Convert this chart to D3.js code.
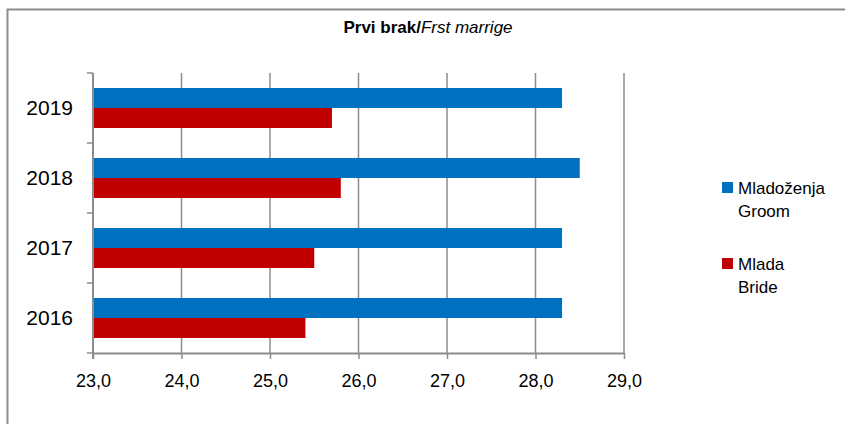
<!DOCTYPE html>
<html>
<head>
<meta charset="utf-8">
<script src="https://cdn.jsdelivr.net/npm/d3@7"></script>
<style>
  body { margin: 0; background: #fff; }
  svg { display: block; font-family: "Liberation Sans", Arial, sans-serif; }
</style>
</head>
<body>
<svg id="chart" width="845" height="424"></svg>
<script>
const years = ['2016', '2017', '2018', '2019'];
const groomAges = [28.3, 28.3, 28.5, 28.3];
const brideAges = [25.4, 25.5, 25.8, 25.7];
const xTicks = [23, 24, 25, 26, 27, 28, 29];
const seriesNames = [['Mladoženja', 'Groom'], ['Mlada', 'Bride']];
const seriesColours = ['#0070c0', '#c00000'];

const svg = d3.select('#chart');
const width = 845, height = 424;

// outer frame
svg.append('path')
	.attr('d', `M7.5,${height}V9.5H${width}`)
	.attr('fill', 'none')
	.attr('stroke', '#8c8c8c')
	.attr('stroke-width', 2);

// title
const title = svg.append('text')
	.attr('x', 428)
	.attr('y', 33)
	.attr('text-anchor', 'middle')
	.attr('font-size', 17)
	.attr('fill', '#000');
title.append('tspan').attr('font-weight', 'bold').text('Prvi brak/');
title.append('tspan').attr('font-style', 'italic').text('Frst marrige');

const plot = { left: 93, right: 624, top: 73, bottom: 353 };

const x = d3.scaleLinear().domain([23, 29]).range([plot.left, plot.right]);
const y = d3.scaleBand().domain(years.slice().reverse()).range([plot.top, plot.bottom]);

const g = svg.append('g');

// vertical gridlines
g.append('g')
	.selectAll('line')
	.data(xTicks.slice(1))
	.enter().append('line')
	.attr('x1', d => x(d)).attr('x2', d => x(d))
	.attr('y1', plot.top).attr('y2', plot.bottom)
	.attr('stroke', '#8c8c8c')
	.attr('stroke-width', 1.5);

// bars
const barH = 20;
const groups = g.append('g')
	.selectAll('g')
	.data(years.map((yr, i) => ({ yr, vals: [groomAges[i], brideAges[i]] })))
	.enter().append('g')
	.attr('transform', d => `translate(0,${y(d.yr) + (y.bandwidth() - 2 * barH) / 2})`);

groups.selectAll('rect')
	.data(d => d.vals)
	.enter().append('rect')
	.attr('x', x(23))
	.attr('y', (d, i) => i * barH)
	.attr('width', d => x(d) - x(23))
	.attr('height', barH)
	.attr('fill', (d, i) => seriesColours[i]);

// x axis
const xAxis = g.append('g')
	.attr('transform', `translate(0,${plot.bottom})`)
	.call(d3.axisBottom(x).tickValues(xTicks).tickSize(6).tickPadding(15)
		.tickFormat(d => d3.format('.1f')(d).replace('.', ',')));
xAxis.select('.domain').attr('stroke', '#8c8c8c').attr('stroke-width', 2)
	.attr('d', `M${plot.left},0.5H${plot.right}`);
xAxis.selectAll('.tick line').attr('stroke', '#8c8c8c').attr('stroke-width', 1.5);
xAxis.selectAll('.tick text').attr('font-size', 18).attr('fill', '#000')
	.attr('font-family', '"Liberation Sans", Arial, sans-serif');

// y axis
const yAxisG = g.append('g').attr('transform', `translate(${plot.left},0)`);
yAxisG.append('line')
	.attr('x1', 0).attr('x2', 0)
	.attr('y1', plot.top).attr('y2', plot.bottom + 6)
	.attr('stroke', '#8c8c8c').attr('stroke-width', 2);
const boundaries = y.domain().map(d => y(d)).concat([plot.bottom]);
yAxisG.selectAll('.ytick')
	.data(boundaries)
	.enter().append('line')
	.attr('x1', -6).attr('x2', 0)
	.attr('y1', d => d).attr('y2', d => d)
	.attr('stroke', '#8c8c8c').attr('stroke-width', 1.5);
yAxisG.selectAll('.ylabel')
	.data(y.domain())
	.enter().append('text')
	.attr('x', -20)
	.attr('y', d => y(d) + y.bandwidth() / 2)
	.attr('dy', '0.35em')
	.attr('text-anchor', 'end')
	.attr('font-size', 21)
	.attr('fill', '#000')
	.text(d => d);

// legend
const legend = svg.append('g').attr('transform', 'translate(722,182)');
const item = legend.selectAll('g')
	.data(seriesNames)
	.enter().append('g')
	.attr('transform', (d, i) => `translate(0,${i * 76})`);
item.append('rect')
	.attr('width', 11).attr('height', 11)
	.attr('fill', (d, i) => seriesColours[i]);
item.append('text')
	.attr('y', 12)
	.attr('font-size', 17)
	.attr('fill', '#000')
	.selectAll('tspan')
	.data(d => d)
	.enter().append('tspan')
	.attr('x', 16)
	.attr('dy', (d, i) => i === 0 ? 0 : 23)
	.text(d => d);
</script>
</body>
</html>
